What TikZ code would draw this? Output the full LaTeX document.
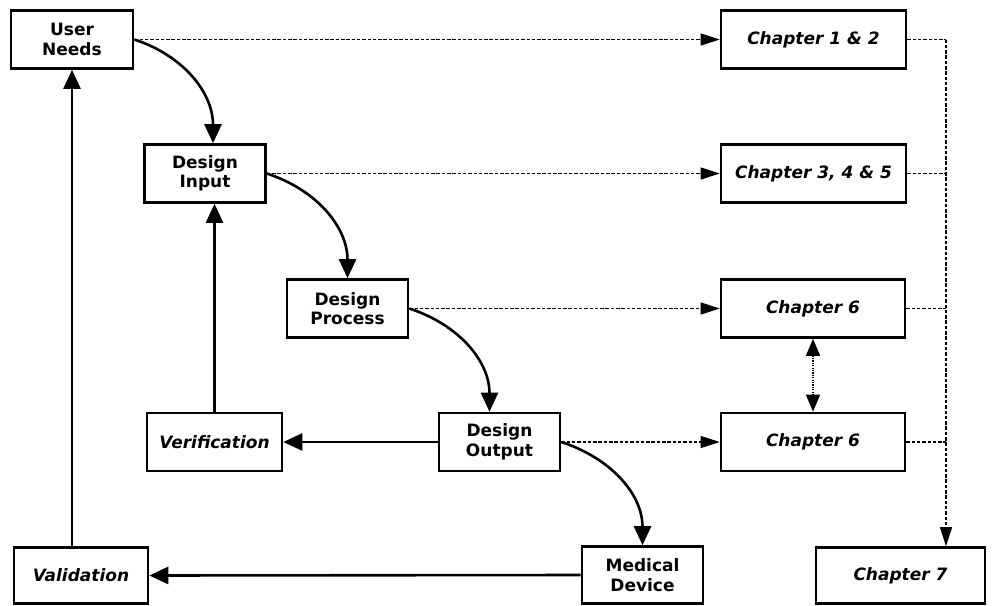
\documentclass[tikz,border=0pt]{standalone}
\usepackage{fontspec}
\setmainfont{DejaVu Sans}
\usetikzlibrary{arrows.meta,calc}

\tikzset{
  box/.style={draw, line width=2.6pt, minimum height=58pt, inner sep=0pt,
    align=center, font=\bfseries\fontsize{17}{19.5}\selectfont},
  ibox/.style={box, font=\bfseries\itshape\fontsize{17}{19.5}\selectfont},
  flow/.style={line width=2.6pt, -{Triangle[length=19pt,width=17pt]}},
  guide/.style={line width=1.1pt, dash pattern=on 3.5pt off 1.8pt},
  link/.style={guide, -{Triangle[length=19pt,width=12pt]}},
  pair/.style={line width=1.2pt, dash pattern=on 1.2pt off 1.2pt,
    {Triangle[length=17pt,width=14pt]}-{Triangle[length=17pt,width=14pt]}}
}

\begin{document}
\begin{tikzpicture}[x=1pt,y=-1pt]
\useasboundingbox (0,0) rectangle (995,605);

% process chain
\node[box, minimum width=122pt] (un)   at (72,39.5)    {User\\Needs};
\node[box, minimum width=121pt] (din)  at (205,173.5)  {Design\\Input};
\node[box, minimum width=121pt] (dp)   at (347.5,308.5){Design\\Process};
\node[box, minimum width=121pt] (dout) at (499.5,442)  {Design\\Output};
\node[ibox, minimum width=135pt] (ver) at (214.5,442)  {Verification};
\node[ibox, minimum width=134pt, minimum height=56pt] (val) at (81,575.5) {Validation};
\node[box, minimum width=121pt, minimum height=57pt] (med) at (642.5,575) {Medical\\Device};

% chapter column
\node[ibox, minimum width=185pt] (c12)  at (813.5,39.5)  {Chapter 1 \& 2};
\node[ibox, minimum width=185pt] (c345) at (813.5,173.5) {Chapter 3, 4 \& 5};
\node[ibox, minimum width=184pt] (c6a)  at (813,308.5)   {Chapter 6};
\node[ibox, minimum width=184pt] (c6b)  at (813,442)     {Chapter 6};
\node[ibox, minimum width=169pt, minimum height=56pt] (c7) at (900.5,575.5) {Chapter 7};

% main flow
\draw[flow] (un.east) to[out=-18,in=90] ($(din.north)+(8,0)$);
\draw[flow] (din.east) to[out=-18,in=90] (dp.north);
\draw[flow] (dp.east) to[out=-18,in=90] ($(dout.north)+(-10,0)$);
\draw[flow] (dout.east) to[out=-18,in=90] (med.north);

% feedback loops
\draw[flow] (dout.west) -- (ver.east);
\draw[flow] (ver.north) -- (ver.north |- din.south);
\draw[flow] (med.west) -- (val.east);
\draw[flow] ($(val.north)+(-9,0)$) -- (un.south);

% links to chapters
\draw[link] (un.east) -- (c12.west);
\draw[link] (din.east) -- (c345.west);
\draw[link] (dp.east) -- (c6a.west);
\draw[link] (dout.east) -- (c6b.west);
\draw[pair] (c6a.south) -- (c6b.north);

% collecting line to chapter 7
\coordinate (bus) at (946,0);
\draw[guide] (c12.east) -- (c12.east -| bus);
\draw[guide] (c345.east) -- (c345.east -| bus);
\draw[guide] (c6a.east) -- (c6a.east -| bus);
\draw[guide] (c6b.east) -- (c6b.east -| bus);
\draw[link] (c12.east -| bus) -- (c7.north -| bus);
\end{tikzpicture}
\end{document}
